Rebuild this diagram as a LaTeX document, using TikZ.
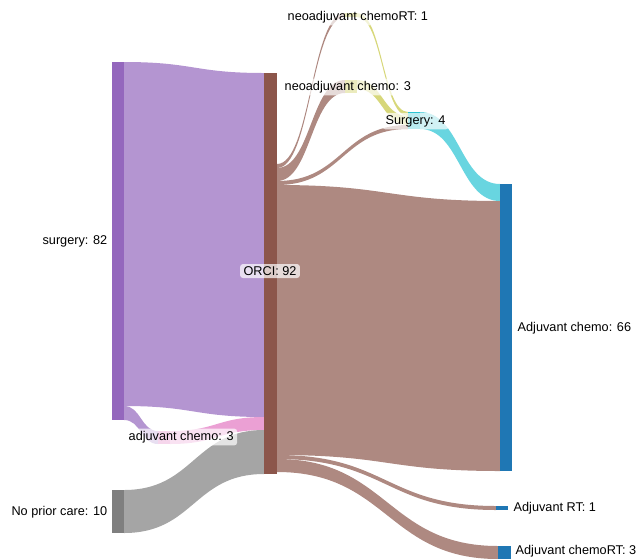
\documentclass[tikz,border=0pt]{standalone}
\usepackage{fontspec}
\setmainfont{Liberation Sans}
\usepackage{tikz}

% plotly colours
\definecolor{cpurple}{HTML}{9467BD}
\definecolor{cbrown}{HTML}{8C564B}
\definecolor{cgray}{HTML}{7F7F7F}
\definecolor{cpink}{HTML}{E377C2}
\definecolor{colive}{HTML}{BCBD22}
\definecolor{ccyan}{HTML}{17BECF}
\definecolor{cblue}{HTML}{1F77B4}

% band: colour, x0, y0 top, y0 bottom, x1, y1 top, y1 bottom
\newcommand{\band}[7]{%
  \fill[#1] (#2,#3) .. controls ({(#2+#5)/2},#3) and ({(#2+#5)/2},#6) .. (#5,#6)
    -- (#5,#7) .. controls ({(#2+#5)/2},#7) and ({(#2+#5)/2},#4) .. (#2,#4) -- cycle;}

\begin{document}
\begin{tikzpicture}[x=1pt,y=-1pt,
    every node/.style={font=\fontsize{12.7}{15}\selectfont},
    bar/.style={inner sep=0pt, anchor=north west, minimum width=12pt},
    tag/.style={fill=white, fill opacity=0.7, text opacity=1, rounded corners=3pt,
      inner xsep=3.5pt, inner ysep=2.5pt}]
    \useasboundingbox (0,0) rectangle (639,558);

    % bands into ORCI
    \band{cpurple!70!white}{124}{62}{406}{264}{73}{417}
    \band{cpurple!70!white}{124}{406}{420}{158}{431}{444}
    \band{cpink!70!white}{170}{431}{444}{264}{417}{430}
    \band{cgray!70!white}{124}{490}{533}{264}{430}{474}

    % bands out of ORCI
    \band{cbrown!70!white}{277}{164}{168}{345}{13}{17}
    \band{cbrown!70!white}{277}{168}{181}{345}{80}{93}
    \band{cbrown!70!white}{277}{181}{185}{408}{125}{129}
    \band{cbrown!70!white}{277}{185}{455}{500}{201}{471}
    \band{cbrown!70!white}{277}{455}{459}{496}{506}{510}
    \band{cbrown!70!white}{277}{459}{472}{498}{546}{559}

    % neoadjuvant -> Surgery -> Adjuvant chemo
    \band{colive!60!white}{357}{13}{17}{408}{112}{116}
    \band{colive!60!white}{357}{80}{89}{408}{116}{125}
    \band{ccyan!65!white}{420}{112}{129}{500}{184}{201}

    % nodes
    \node[bar, fill=cpurple, minimum height=358pt] (surgery) at (112,62) {};
    \node[bar, fill=cgray, minimum height=43pt] (noprior) at (112,490) {};
    \node[bar, fill=cpink, minimum height=13pt] (adjchemoL) at (158,431) {};
    \node[bar, fill=cbrown, minimum width=13pt, minimum height=401pt] (orci) at (264,73) {};
    \node[bar, fill=colive, minimum height=4pt] (neoRT) at (345,13) {};
    \node[bar, fill=colive, minimum height=13pt] (neoC) at (345,80) {};
    \node[bar, fill=ccyan, minimum height=17pt] (surg) at (408,112) {};
    \node[bar, fill=cblue, minimum height=287pt] (adjC) at (500,184) {};
    \node[bar, fill=cblue, minimum height=4pt] (adjRT) at (496,506) {};
    \node[bar, fill=cblue, minimum width=13pt, minimum height=13pt] (adjCRT) at (498,546) {};

    % labels
    \node[tag, anchor=east] at (111,241) {surgery: 82};
    \node[tag, anchor=east] at (111,512) {No prior care: 10};
    \node[tag, anchor=west] at (125,437) {adjuvant chemo: 3};
    \node[tag] at (270,271) {ORCI: 92};
    \node[tag, anchor=west] at (284,17) {neoadjuvant chemoRT: 1};
    \node[tag, anchor=west] at (281,87) {neoadjuvant chemo: 3};
    \node[tag, anchor=west] at (382,121) {Surgery: 4};
    \node[tag, anchor=west] at (514,328) {Adjuvant chemo: 66};
    \node[tag, anchor=west] at (510,508) {Adjuvant RT: 1};
    \node[tag, anchor=west] at (512,551) {Adjuvant chemoRT: 3};
\end{tikzpicture}
\end{document}
